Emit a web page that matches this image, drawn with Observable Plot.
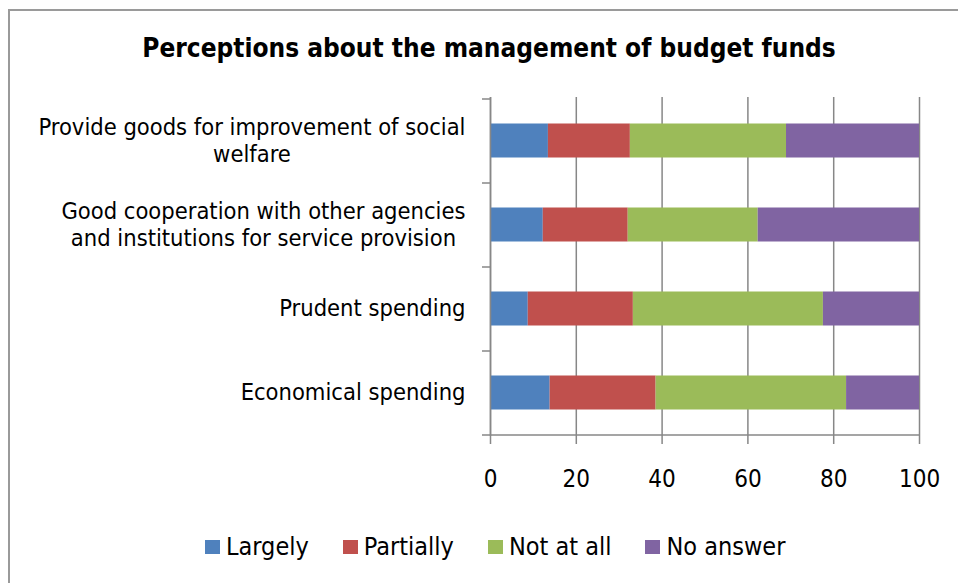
<!DOCTYPE html>
<html>
<head>
<meta charset="utf-8">
<script src="https://cdn.jsdelivr.net/npm/d3@7"></script>
<script src="https://cdn.jsdelivr.net/npm/@observablehq/plot@0.6"></script>
<style>
  html, body { margin: 0; padding: 0; background: #fff; }
  #wrap { position: relative; width: 958px; height: 583px; overflow: hidden; background: #fff;
          font-family: "DejaVu Sans Condensed", "DejaVu Sans", sans-serif; color: #000; }
  #frame { position: absolute; left: 8px; top: 9px; width: 1200px; height: 1200px;
           border-left: 2px solid #9a9a9a; border-top: 2px solid #9a9a9a; }
  #title { position: absolute; left: 0; top: 35px; width: 978px; text-align: center;
           font-weight: bold; font-size: 26px; line-height: 26px; }
  #chart { position: absolute; left: 0; top: 0; }
  #legend { position: absolute; left: 205px; top: 534px; display: flex; align-items: center;
            font-size: 25px; line-height: 25px; }
  .item { display: flex; align-items: center; margin-right: 34px; }
  .sw { width: 15px; height: 14px; margin-right: 6px; }
</style>
</head>
<body>
<div id="wrap">
  <div id="frame"></div>
  <div id="title"></div>
  <div id="chart"></div>
  <div id="legend"></div>
</div>
<script>
const titleText = "Perceptions about the management of budget funds";
const categories = [
  "Provide goods for improvement of social welfare",
  "Good cooperation with other agencies and institutions for service provision",
  "Prudent spending",
  "Economical spending"
];
const categoryLabels = [
  "Provide goods for improvement of social\nwelfare",
  "Good cooperation with other agencies\nand institutions for service provision",
  "Prudent spending",
  "Economical spending"
];
const series = ["Largely", "Partially", "Not at all", "No answer"];
const largely   = [13.5, 12.3, 8.8, 13.9];
const partially = [19.1, 19.8, 24.5, 24.7];
const notAtAll  = [36.4, 30.3, 44.3, 44.4];
const noAnswer  = [31.0, 37.6, 22.4, 17.0];
const colors = ["#4F81BD", "#C0504D", "#9BBB59", "#8064A2"];
const xTicks = [0, 20, 40, 60, 80, 100];

const seriesValues = [largely, partially, notAtAll, noAnswer];
const data = [];
categories.forEach((c, i) => {
  series.forEach((s, j) => data.push({category: c, series: s, value: seriesValues[j][i]}));
});

document.getElementById("title").textContent = titleText;

const axisColor = "#878787";

// boundary ticks on the category axis + bottom axis line, using Plot's scales
function categoryBoundaries(index, scales, values, dims) {
  const y = scales.y, x = scales.x;
  const step = y(categories[1]) - y(categories[0]);
  const bounds = categories.map(c => y(c));
  bounds.push(y(categories[categories.length - 1]) + step);
  const g = d3.create("svg:g").attr("stroke", axisColor).attr("stroke-width", 1.5);
  const x0 = x(0);
  for (const b of bounds) {
    g.append("line").attr("x1", x0 - 8).attr("x2", x0).attr("y1", b).attr("y2", b);
  }
  const yb = bounds[bounds.length - 1];
  g.append("line").attr("x1", x0).attr("x2", x(100)).attr("y1", yb).attr("y2", yb);
  return g.node();
}

const chart = Plot.plot({
  width: 958,
  height: 583,
  marginLeft: 490,
  marginRight: 39,
  marginTop: 97,
  marginBottom: 147,
  style: {fontFamily: "'DejaVu Sans Condensed', 'DejaVu Sans', sans-serif", background: "transparent", color: "#000", overflow: "visible"},
  x: {domain: [0, 100]},
  y: {domain: categories, padding: 0},
  color: {domain: series, range: colors},
  marks: [
    Plot.gridX(xTicks, {stroke: axisColor, strokeOpacity: 1, strokeWidth: 1.5}),
    Plot.barX(data, Plot.stackX({x: "value", y: "category", fill: "series", insetTop: 24.5, insetBottom: 25.5})),
    Plot.ruleX([0], {stroke: axisColor, strokeWidth: 1.5}),
    Plot.axisX({ticks: xTicks, tickSize: 8, tickPadding: 25, fontSize: 24, stroke: axisColor, strokeWidth: 1.5, label: null}),
    Plot.axisY({tickSize: 0, tickPadding: 25, fontSize: 23.5, lineHeight: 1.15, label: null, dy: -2,
                tickFormat: c => categoryLabels[categories.indexOf(c)]}),
    categoryBoundaries
  ]
});
document.getElementById("chart").appendChild(chart);

// center multi-line category labels on their widest line, keeping right edge
chart.querySelectorAll('g[aria-label="y-axis tick label"] text').forEach(t => {
  const w = t.getBBox().width;
  t.setAttribute("text-anchor", "middle");
  const tr = t.getAttribute("transform") || "";
  t.setAttribute("transform", tr + ` translate(${-w / 2},0)`);
});

const legend = document.getElementById("legend");
series.forEach((s, i) => {
  const item = document.createElement("div");
  item.className = "item";
  const sw = document.createElement("div");
  sw.className = "sw";
  sw.style.background = colors[i];
  const label = document.createElement("span");
  label.textContent = s;
  item.appendChild(sw);
  item.appendChild(label);
  legend.appendChild(item);
});
</script>
</body>
</html>
